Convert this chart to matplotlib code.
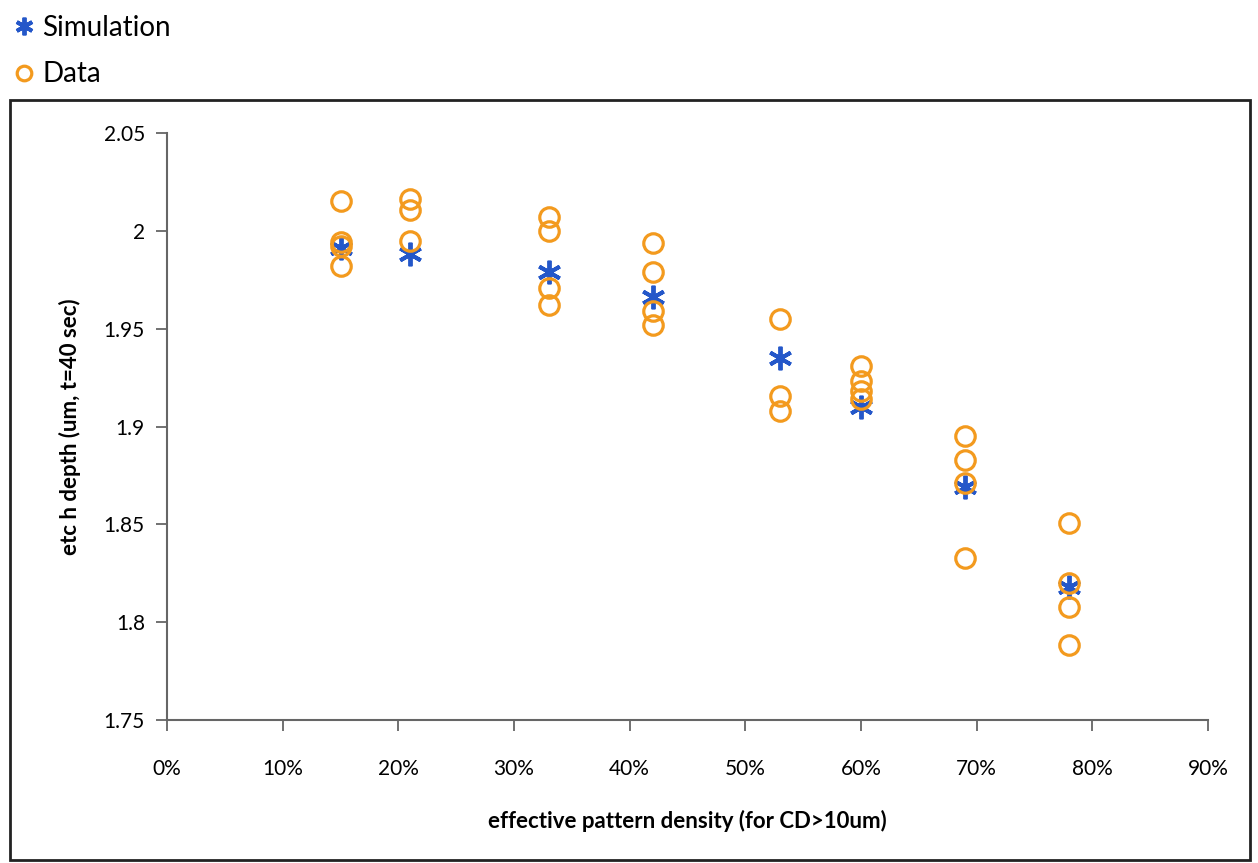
import matplotlib.pyplot as plt
from matplotlib.patches import Rectangle
from matplotlib.ticker import FuncFormatter, MultipleLocator

plt.rcParams['font.family'] = ['Lato', 'DejaVu Sans']

# simulated etch depth per density
sim_x = [0.15, 0.21, 0.33, 0.42, 0.53, 0.60, 0.69, 0.78]
sim_y = [1.991, 1.988, 1.979, 1.966, 1.935, 1.910, 1.869, 1.818]

# measured points (several per density)
data_x = [0.15, 0.15, 0.15, 0.15,
          0.21, 0.21, 0.21,
          0.33, 0.33, 0.33, 0.33,
          0.42, 0.42, 0.42, 0.42,
          0.53, 0.53, 0.53,
          0.60, 0.60, 0.60, 0.60,
          0.69, 0.69, 0.69, 0.69,
          0.78, 0.78, 0.78, 0.78]
data_y = [2.015, 1.9945, 1.992, 1.982,
          2.0165, 2.0105, 1.995,
          2.007, 2.000, 1.971, 1.962,
          1.994, 1.979, 1.959, 1.952,
          1.955, 1.9155, 1.908,
          1.931, 1.923, 1.918, 1.914,
          1.895, 1.883, 1.871, 1.833,
          1.8505, 1.820, 1.808, 1.7885]

fig = plt.figure(figsize=(12.58, 8.63), dpi=100)
ax = fig.add_axes([167 / 1258, 1 - 720 / 863, (1208 - 167) / 1258, (720 - 133) / 863])

blue = '#2457c9'
orange = '#f39a1e'

h_sim, = ax.plot(sim_x, sim_y, linestyle='none', marker=(6, 2, 0), markersize=17,
                 markeredgewidth=2.8, color=blue, label='Simulation', zorder=2)
h_dat, = ax.plot(data_x, data_y, linestyle='none', marker='o', markersize=14,
                 markerfacecolor='none', markeredgewidth=2.3, markeredgecolor=orange,
                 label='Data', zorder=3)

ax.set_xlim(0, 0.9)
ax.set_ylim(1.75, 2.05)
ax.xaxis.set_major_locator(MultipleLocator(0.1))
ax.yaxis.set_major_locator(MultipleLocator(0.05))
ax.xaxis.set_major_formatter(FuncFormatter(lambda v, p: f'{v * 100:.0f}%'))
ax.yaxis.set_major_formatter(FuncFormatter(lambda v, p: f'{v:g}'))

for s in ['top', 'right']:
    ax.spines[s].set_visible(False)
for s in ['left', 'bottom']:
    ax.spines[s].set_color('#666666')
    ax.spines[s].set_linewidth(1.5)
ax.tick_params(direction='out', length=8, width=1.3, color='#666666', labelsize=15)
ax.tick_params(axis='x', pad=20)
ax.tick_params(axis='y', pad=8)

ax.set_xlabel('effective pattern density (for CD>10um)', fontsize=16,
              fontweight='bold', labelpad=22)
ax.set_ylabel('etc h depth (um, t=40 sec)', fontsize=16, fontweight='bold', labelpad=16)

fig.patches.append(Rectangle((10 / 1258, 1 - 860 / 863), 1240 / 1258, 760 / 863,
                             transform=fig.transFigure, fill=False,
                             edgecolor='#222222', linewidth=2))

fig.legend(handles=[h_sim, h_dat], loc='upper left', bbox_to_anchor=(-0.006, 1.012),
           frameon=False, fontsize=20, handlelength=0.5, handletextpad=0.4,
           labelspacing=0.75, markerscale=0.75)

fig.savefig('out.png', dpi=100)
